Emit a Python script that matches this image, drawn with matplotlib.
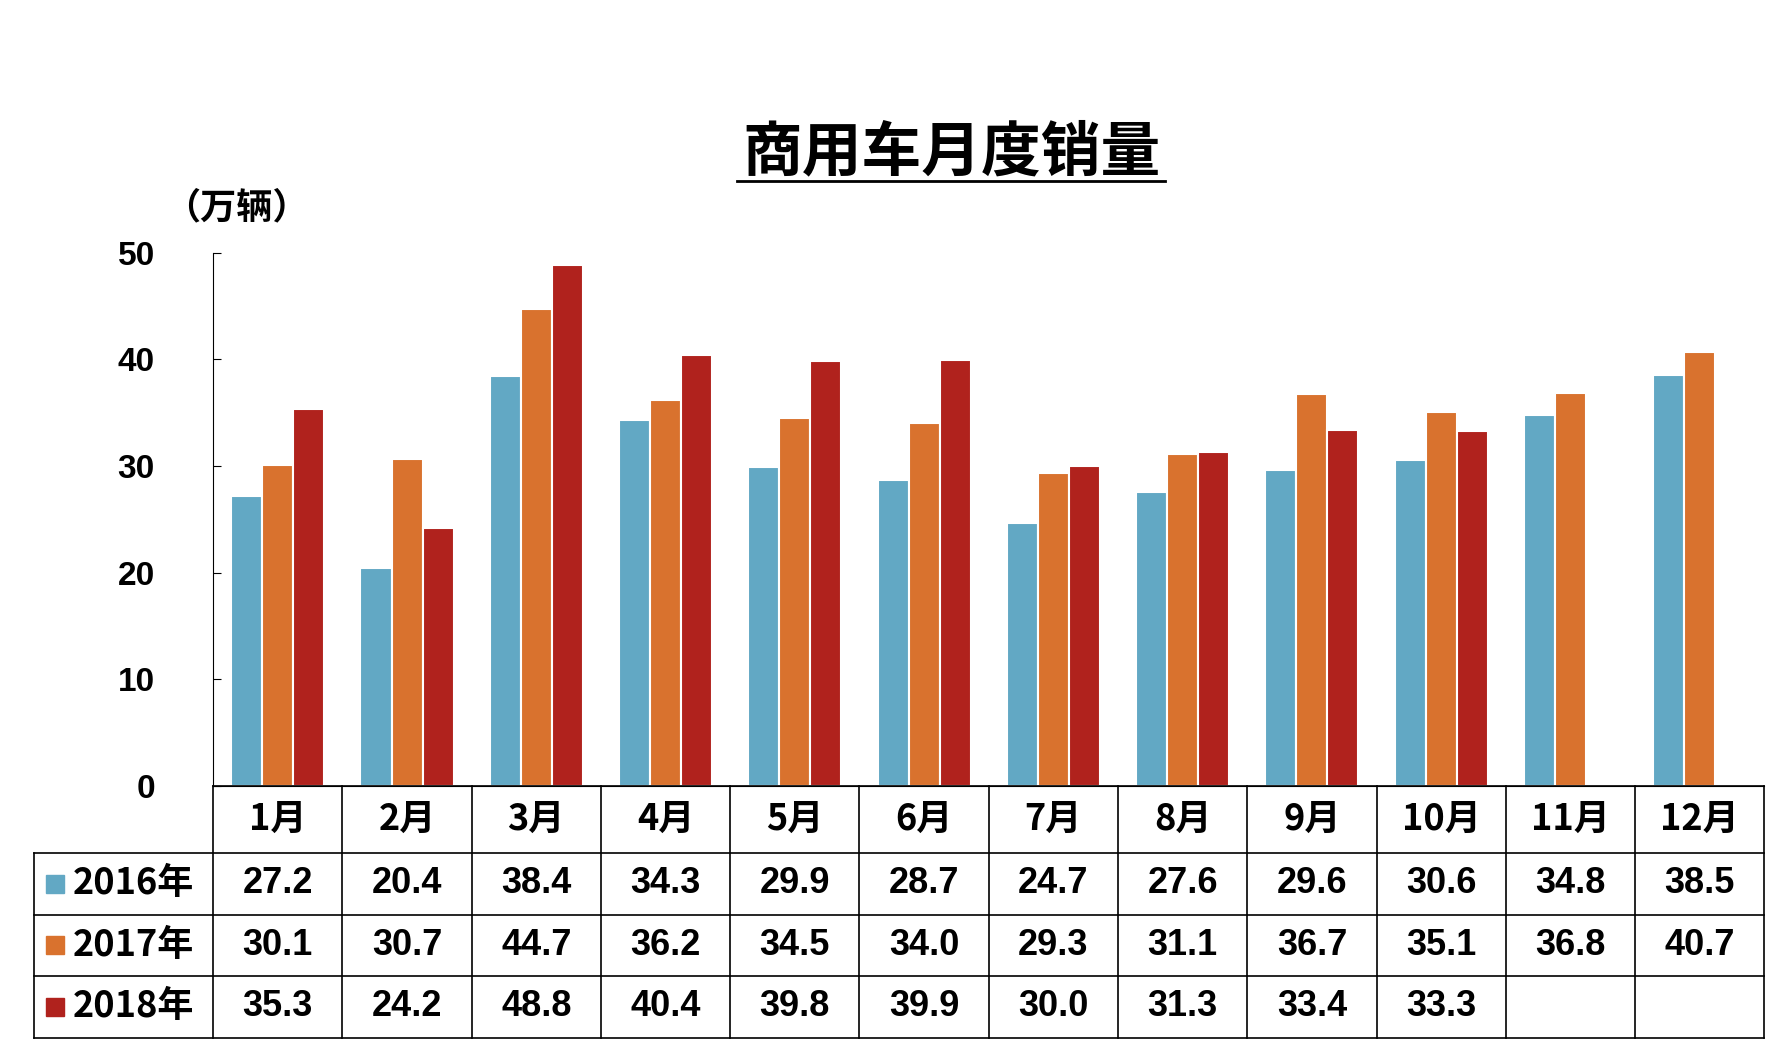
import matplotlib
matplotlib.use("Agg")
import matplotlib.pyplot as plt
from matplotlib.transforms import blended_transform_factory
import numpy as np

plt.rcParams['font.family'] = ['Noto Sans CJK JP', 'Noto Sans CJK SC', 'Noto Sans CJK TC', 'DejaVu Sans']
plt.rcParams['font.weight'] = 'bold'

months = ["1月","2月","3月","4月","5月","6月","7月","8月","9月","10月","11月","12月"]
series_names = ["2016年","2017年","2018年"]
v2016 = [27.2,20.4,38.4,34.3,29.9,28.7,24.7,27.6,29.6,30.6,34.8,38.5]
v2017 = [30.1,30.7,44.7,36.2,34.5,34.0,29.3,31.1,36.7,35.1,36.8,40.7]
v2018 = [35.3,24.2,48.8,40.4,39.8,39.9,30.0,31.3,33.4,33.3,None,None]
colors = ["#62A8C4", "#D9722E", "#B0221D"]

W, H = 1560, 930
fig = plt.figure(figsize=(17.78, 10.58), dpi=100)
ax = fig.add_axes([187/W, 1-691/H, (1548-187)/W, (691-222)/H])
x = np.arange(len(months))
bw = 0.24
for i, vals in enumerate([v2016, v2017, v2018]):
    xs = [xi + (i-1)*bw for xi, v in zip(x, vals) if v is not None]
    ys = [v for v in vals if v is not None]
    ax.bar(xs, ys, bw, color=colors[i], edgecolor='white', linewidth=1.5)
ax.set_xlim(-0.5, 11.5)
ax.set_ylim(0, 50)
ax.set_yticks(range(0, 51, 10))
ax.tick_params(axis='y', labelsize=24, direction='in', length=6, pad=42)
for lab in ax.get_yticklabels():
    lab.set_fontfamily('Liberation Sans'); lab.set_fontweight('bold')
ax.set_xticks([])
for s in ['top', 'right']:
    ax.spines[s].set_visible(False)

tr = blended_transform_factory(ax.transData, fig.transFigure)
ys_fig = [1-691/H, 1-750/H, 1-804/H, 1-858/H, 1-912/H]
lw = 1.2
ax.plot([-0.5, 11.5], [ys_fig[0]]*2, transform=tr, color='black', lw=lw, clip_on=False)
for y in ys_fig[1:]:
    fig.add_artist(plt.Line2D([30/W, 1548/W], [y, y], color='black', lw=lw))
for b in np.arange(-0.5, 12, 1):
    ax.plot([b, b], [ys_fig[0], ys_fig[-1]], transform=tr, color='black', lw=lw, clip_on=False)
fig.add_artist(plt.Line2D([30/W, 30/W], [ys_fig[1], ys_fig[-1]], color='black', lw=lw))

fs = 26
for j, m in enumerate(months):
    ax.text(j, (ys_fig[0]+ys_fig[1])/2, m, transform=tr, ha='center', va='center', fontsize=fs)
for r, vals in enumerate([v2016, v2017, v2018]):
    yc = (ys_fig[r+1]+ys_fig[r+2])/2
    for j, v in enumerate(vals):
        if v is not None:
            ax.text(j, yc, f"{v:.1f}", transform=tr, ha='center', va='center', fontsize=26,
                    fontfamily='Liberation Sans', fontweight='bold')
    fig.patches.append(plt.Rectangle((40/W, yc-8/H), 16/W, 16/H, color=colors[r], transform=fig.transFigure))
    fig.text(64/W, yc, series_names[r], ha='left', va='center', fontsize=fs)

fig.text(835/W, 1-135/H, "商用车月度销量", ha='center', va='center', fontsize=43)
fig.add_artist(plt.Line2D([647/W, 1022/W], [1-159/H]*2, color='black', lw=2))
fig.text(207/W, 1-183/H, "（万辆）", ha='center', va='center', fontsize=26)

fig.savefig("out.png", dpi=100, facecolor='white')
